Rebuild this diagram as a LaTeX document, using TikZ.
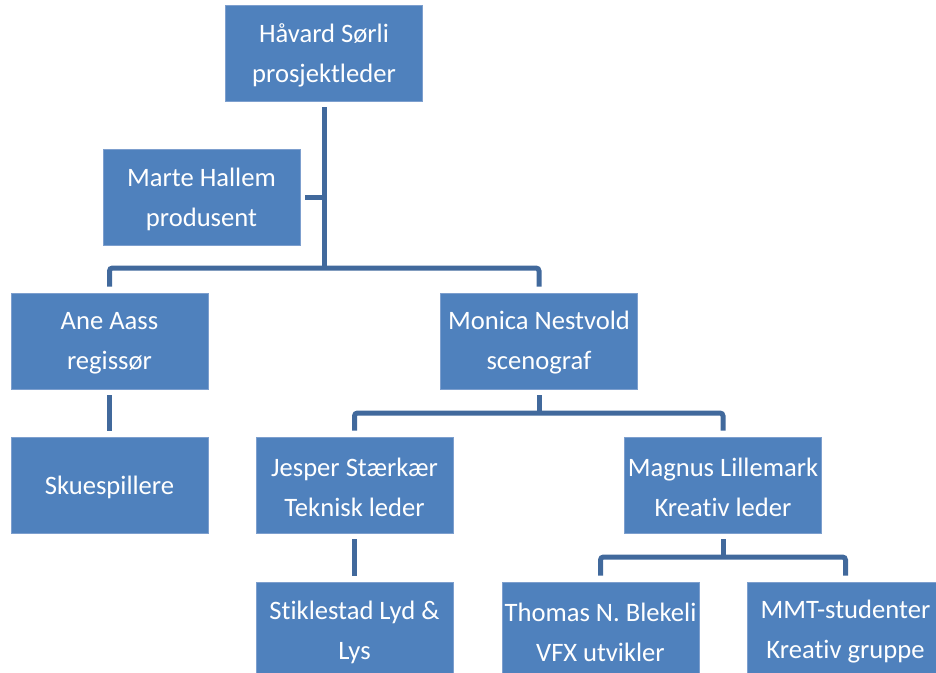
\documentclass[tikz,border=0pt]{standalone}
\usepackage{fontspec}
\setmainfont[Ligatures=NoCommon]{Carlito}
\definecolor{boxfill}{HTML}{4F81BD}
\definecolor{boxedge}{HTML}{7D9FCE}
\definecolor{linkcol}{HTML}{41699C}
\begin{document}
\begin{tikzpicture}[x=1pt,y=-1pt,
  person/.style={rectangle, fill=boxfill, draw=boxedge, line width=0.8pt,
    minimum width=197pt, minimum height=96pt, inner sep=0pt},
  caption/.style={text=white, align=center, inner sep=0pt,
    font=\fontsize{26.6}{40}\selectfont},
  conn/.style={draw=linkcol, line width=5pt},
  bus/.style={conn, rounded corners=3pt}]
\useasboundingbox (0,0) rectangle (936,672);
\clip (0,0) rectangle (936,672);

% boxes
\node[person] (hs) at (324,53)    {};
\node[person] (mh) at (201.5,197) {};
\node[person] (aa) at (109.5,341) {};
\node[person] (mn) at (539,341)   {};
\node[person] (sk) at (109.5,485) {};
\node[person] (js) at (354.5,485) {};
\node[person] (ml) at (723,485)   {};
\node[person] (sl) at (354.5,630) {};
\node[person] (tb) at (600.5,630) {};
\node[person] (mm) at (845.5,630) {};

% names and roles, set a little below each box centre
\node[caption] (hs-t) at ([yshift=-2pt]hs.center) {Håvard Sørli\\prosjektleder};
\node[caption] (mh-t) at ([yshift=-2pt]mh.center) {Marte Hallem\\produsent};
\node[caption] (aa-t) at ([yshift=-2pt]aa.center) {Ane Aass\\regissør};
\node[caption] (mn-t) at ([yshift=-2pt]mn.center) {Monica Nestvold\\scenograf};
\node[caption] (sk-t) at ([yshift=-2pt]sk.center) {Skuespillere};
\node[caption] (js-t) at ([yshift=-2pt]js.center) {Jesper Stærkær\\Teknisk leder};
\node[caption] (ml-t) at ([yshift=-2pt]ml.center) {Magnus Lillemark\\Kreativ leder};
\node[caption] (sl-t) at ([yshift=-2pt]sl.center) {Stiklestad Lyd \&\\Lys};
\node[caption] (tb-t) at ([yshift=-2pt]tb.center) {Thomas N. Blekeli\\VFX utvikler};
\node[caption] (mm-t) at ([yshift=-2pt]mm.center) {MMT-studenter\\Kreativ gruppe};

% junction points of the bus lines
\coordinate (b1) at (324,268);
\coordinate (b2) at (539,413);
\coordinate (b3) at (723,557);

% connectors
\draw[conn] ([yshift=-6pt]hs.south) -- (b1);
\draw[conn] ([xshift=5pt]mh.east) -- (mh.east -| b1);
\draw[bus] ([yshift=6pt]aa.north) |- (b1) -| ([yshift=6pt]mn.north);
\draw[conn] ([yshift=-6pt]aa.south) -- ([yshift=6pt]sk.north);
\draw[conn] ([yshift=-6pt]mn.south) -- (b2);
\draw[bus] ([yshift=6pt]js.north) |- (b2) -| ([yshift=6pt]ml.north);
\draw[conn] ([yshift=-6pt]js.south) -- ([yshift=6pt]sl.north);
\draw[conn] ([yshift=-6pt]ml.south) -- (b3);
\draw[bus] ([yshift=6pt]tb.north) |- (b3) -| ([yshift=6pt]mm.north);
\end{tikzpicture}
\end{document}
